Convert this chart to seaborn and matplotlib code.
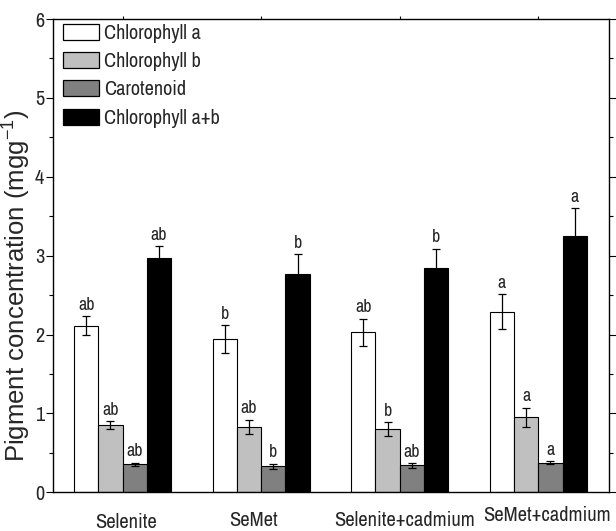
import numpy as np
import pandas as pd
import seaborn as sns
import matplotlib
matplotlib.use("Agg")
import matplotlib.pyplot as plt
from matplotlib.patches import Patch
from matplotlib import font_manager as fm
from matplotlib.textpath import TextPath

treatments = ["Selenite", "SeMet", "Selenite+cadmium", "SeMet+cadmium"]
pigments = ["Chlorophyll a", "Chlorophyll b", "Carotenoid", "Chlorophyll a+b"]

chl_a = [2.11, 1.94, 2.03, 2.29]
chl_a_err = [0.12, 0.18, 0.17, 0.22]
chl_b = [0.85, 0.83, 0.80, 0.95]
chl_b_err = [0.05, 0.09, 0.09, 0.12]
carot = [0.355, 0.33, 0.34, 0.375]
carot_err = [0.02, 0.03, 0.03, 0.02]
chl_ab = [2.97, 2.77, 2.84, 3.25]
chl_ab_err = [0.15, 0.25, 0.25, 0.35]

letters_a = ["ab", "b", "ab", "a"]
letters_b = ["ab", "ab", "b", "a"]
letters_c = ["ab", "b", "ab", "a"]
letters_ab = ["ab", "b", "b", "a"]

colors = ["#ffffff", "#c0c0c0", "#808080", "#000000"]

values = [chl_a, chl_b, carot, chl_ab]
errors = [chl_a_err, chl_b_err, carot_err, chl_ab_err]
letters = [letters_a, letters_b, letters_c, letters_ab]

rows = []
for p, vals in zip(pigments, values):
    for t, v in zip(treatments, vals):
        rows.append({"treatment": t, "pigment": p, "value": v})
df = pd.DataFrame(rows)

sns.set_style("white")

# pick a narrow font if available
available = set(f.name for f in fm.fontManager.ttflist)
narrow_candidates = ["Liberation Sans Narrow", "Arial Narrow", "Nimbus Sans Narrow",
                     "Archivo Narrow", "PT Sans Narrow", "Roboto Condensed",
                     "Open Sans Condensed", "Fira Sans Condensed",
                     "IBM Plex Sans Condensed", "Asap Condensed",
                     "Barlow Semi Condensed", "Encode Sans Condensed"]
narrow = "Liberation Sans"
for c in narrow_candidates:
    if c in available:
        narrow = c
        break
regular = "Liberation Sans"
plt.rcParams["font.family"] = [narrow, "DejaVu Sans"]
plt.rcParams["mathtext.fontset"] = "custom"
plt.rcParams["mathtext.rm"] = regular
plt.rcParams["mathtext.it"] = regular + ":italic"
plt.rcParams["mathtext.bf"] = regular + ":bold"

DPI = 100


def size_for(text, target_px, family):
    fp = fm.FontProperties(family=family)
    w = TextPath((0, 0), text, size=10, prop=fp).get_extents().width
    return 10 * target_px / (w * DPI / 72.0)


legend_fs = size_for("Chlorophyll a", 96, narrow)
tick_fs = legend_fs
xlab_fs = size_for("Selenite", 60, narrow)
letter_fs = size_for("ab", 15, narrow)
ylab_fs = size_for("Pigment concentration (mgg", 318, regular)

fig = plt.figure(figsize=(6.16, 5.31), dpi=DPI)
ax = fig.add_axes([53.3 / 616, 1 - 492.3 / 531, 555.7 / 616, 473.3 / 531])

sns.barplot(data=df, x="treatment", y="value", hue="pigment",
            order=treatments, hue_order=pigments, palette=colors,
            width=0.70, gap=0, errorbar=None, edgecolor="black",
            linewidth=0.8, ax=ax, legend=False, saturation=1)

ypx = 473.3 / 6.0  # pixels per data unit
for i, p in enumerate(pigments):
    cont = ax.containers[i]
    for j, bar in enumerate(cont):
        xc = bar.get_x() + bar.get_width() / 2
        v = values[i][j]
        e = errors[i][j]
        ax.errorbar(xc, v, yerr=e, fmt="none", ecolor="black",
                    elinewidth=0.9, capsize=2.6, capthick=0.9)
        ax.text(xc, v + e + 6.5 / ypx, letters[i][j], ha="center",
                va="baseline", fontsize=letter_fs)

ax.set_ylim(0, 6)
ax.set_xlim(-0.50, 3.51)
ax.set_yticks(np.arange(0, 7, 1))
ax.set_yticks(np.arange(0.5, 6, 1), minor=True)
ax.set_xticks(range(4))
ax.set_xticklabels([])
ax.tick_params(axis="both", which="both", direction="out",
               left=True, right=True, top=True, bottom=False,
               labelsize=tick_fs, width=0.8, color="black", pad=1.5)
ax.tick_params(axis="y", which="major", length=5)
ax.tick_params(axis="y", which="minor", length=3)
ax.tick_params(axis="x", which="major", length=2.5)
for s in ax.spines.values():
    s.set_visible(True)
    s.set_color("black")
    s.set_linewidth(1.0)

ax.set_xlabel("")
ax.set_ylabel("")
fig.text(17 / 616, 1 - 285.5 / 531, "Pigment concentration (mgg$^{-1}$)",
         rotation=90, ha="center", va="center", fontsize=ylab_fs,
         family=[regular, "DejaVu Sans"])

label_x = [0.028, 0.942, 2.032, 3.065]
label_y = [-0.0745, -0.0715, -0.0715, -0.0600]
for lx, ly, t in zip(label_x, label_y, treatments):
    ax.text(lx, ly, t, transform=ax.get_xaxis_transform(), ha="center",
            va="baseline", fontsize=xlab_fs)

F = legend_fs * DPI / 72.0
handles = [Patch(facecolor=c, edgecolor="black", linewidth=0.9) for c in colors]
ax.legend(handles, pigments, loc="upper left", frameon=False, fontsize=legend_fs,
          handlelength=36 / F, handleheight=17 / F, labelspacing=0.45,
          handletextpad=5 / F, borderpad=0, borderaxespad=0,
          bbox_to_anchor=(10 / 555.7, 1 - 5 / 473.3))

fig.savefig("out.png", dpi=DPI)
